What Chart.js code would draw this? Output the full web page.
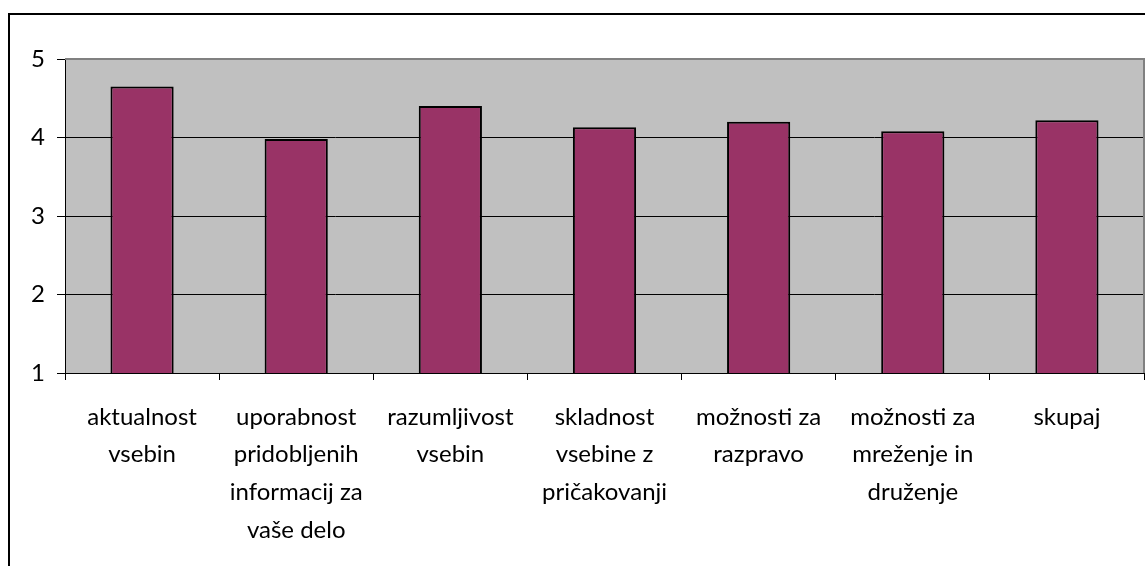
<!DOCTYPE html>
<html>
<head>
<meta charset="utf-8">
<script src="https://cdn.jsdelivr.net/npm/chart.js@4"></script>
<style>
  html, body { margin: 0; padding: 0; background: #fff; overflow: hidden; }
  #frame { position: absolute; left: 8px; top: 13px; width: 1200px; height: 600px; border: 2px solid #000; }
  #wrap { position: absolute; left: 0; top: 0; width: 1145px; height: 566px; }
</style>
</head>
<body>
<div id="frame"></div>
<div id="wrap"><canvas id="chart" width="1145" height="566"></canvas></div>
<script>
const categories = [
    ["aktualnost", "vsebin"],
    ["uporabnost", "pridobljenih", "informacij za", "vaše delo"],
    ["razumljivost", "vsebin"],
    ["skladnost", "vsebine z", "pričakovanji"],
    ["možnosti za", "razpravo"],
    ["možnosti za", "mreženje in", "druženje"],
    ["skupaj"]
];
const scores = [4.65, 3.98, 4.40, 4.13, 4.20, 4.08, 4.22];
const yTicks = [1, 2, 3, 4, 5];

const FONT = 'Lato, "Noto Sans", sans-serif';

// grey plot background and the grey top / right edge
const plotArea = {
    id: 'plotArea',
    beforeDraw(chart) {
        const a = chart.chartArea, c = chart.ctx;
        c.save();
        c.fillStyle = '#C0C0C0';
        c.fillRect(a.left, a.top, a.right - a.left, a.bottom - a.top);
        c.restore();
    },
    afterDatasetsDraw(chart) {
        const a = chart.chartArea, c = chart.ctx;
        c.save();
        c.strokeStyle = '#808080';
        c.lineWidth = 2;
        c.beginPath();
        c.moveTo(a.left, a.top);
        c.lineTo(a.right, a.top);
        c.lineTo(a.right, a.bottom);
        c.stroke();
        c.restore();
    }
};

new Chart(document.getElementById('chart'), {
    type: 'bar',
    data: {
        labels: categories,
        datasets: [{
            data: scores,
            backgroundColor: '#993366',
            borderColor: '#000000',
            borderWidth: 2,
            barPercentage: 0.41,
            categoryPercentage: 1.0
        }]
    },
    options: {
        responsive: false,
        animation: false,
        layout: { padding: { top: 59, right: 1, left: 0, bottom: 0 } },
        plugins: { legend: { display: false }, tooltip: { enabled: false } },
        scales: {
            x: {
                offset: true,
                grid: {
                    offset: true,
                    drawOnChartArea: false,
                    color: '#000',
                    tickLength: 7
                },
                border: { color: '#000', width: 1 },
                ticks: {
                    color: '#000',
                    padding: 18,
                    maxRotation: 0,
                    autoSkip: false,
                    font: { family: FONT, size: 24, lineHeight: 1.57 }
                },
                afterFit(s) { s.height = 193; }
            },
            y: {
                min: 1,
                max: 5,
                afterBuildTicks(s) { s.ticks = yTicks.map(v => ({ value: v })); },
                grid: {
                    color: ctx => ctx.tick && ctx.tick.value === 5 ? '#808080' : '#000',
                    tickColor: '#000',
                    tickLength: 8,
                    lineWidth: 1
                },
                border: { color: '#000', width: 1 },
                ticks: {
                    color: '#000',
                    padding: 12,
                    font: { family: FONT, size: 24 }
                },
                afterFit(s) { s.width = 65; }
            }
        }
    },
    plugins: [plotArea]
});
</script>
</body>
</html>
